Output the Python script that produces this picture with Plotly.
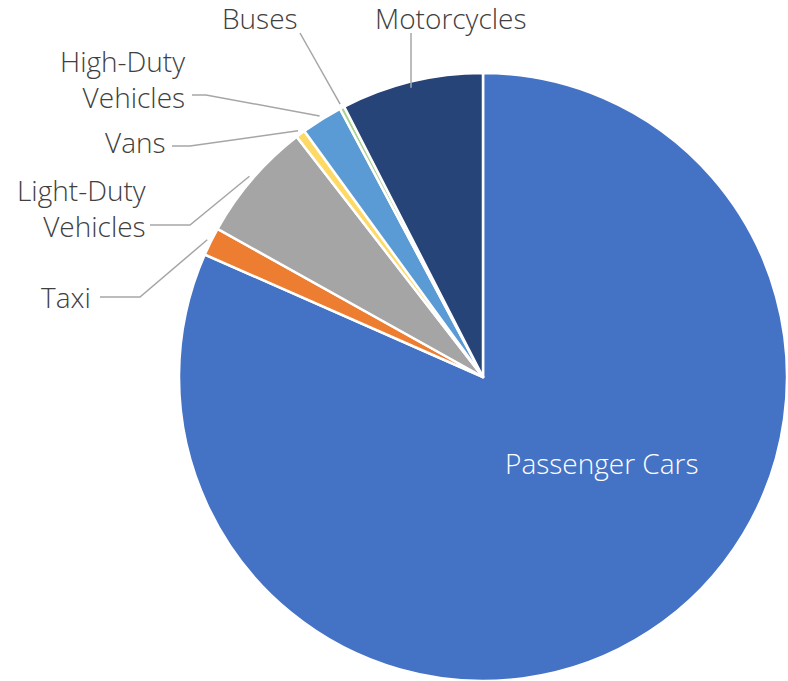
import math
import plotly.graph_objects as go

# Vehicle fleet share by category (percent)
categories = ["Passenger Cars", "Taxi", "Light-Duty Vehicles", "Vans",
              "High-Duty Vehicles", "Buses", "Motorcycles"]
shares = [81.6, 1.5, 6.4, 0.5, 2.2, 0.25, 7.55]
colors = ["#4472C4", "#ED7D31", "#A5A5A5", "#FFD966",
          "#5B9BD5", "#A9D18E", "#264478"]

W, H = 788, 681
CX, CY, R = 483, 377, 304  # pie centre and radius in pixels

FONT = "Open Sans"
FONT_SIZE = 28
TEXT_COLOR = "#404040"
LINE_COLOR = "#A6A6A6"


def px_to_paper(x, y):
    return x / W, 1 - y / H


def slice_point(idx, radius):
    """Pixel point on the bisector of slice idx (clockwise from 12 o'clock)."""
    total = sum(shares)
    start = sum(shares[:idx]) / total * 360
    mid = start + shares[idx] / total * 360 / 2
    a = math.radians(mid)
    return CX + radius * math.sin(a), CY - radius * math.cos(a)


fig = go.Figure(go.Pie(
    labels=categories,
    values=shares,
    sort=False,
    direction="clockwise",
    rotation=0,
    textinfo="none",
    hoverinfo="label+percent",
    marker=dict(colors=colors, line=dict(color="white", width=2.5)),
    domain=dict(x=[(CX - R) / W, (CX + R) / W],
                y=[1 - (CY + R) / H, 1 - (CY - R) / H]),
    showlegend=False,
))

# Outside labels: (category index, text, anchor, text position, elbow points)
outside = [
    (1, "Taxi", "right", (93, 297), [(100, 297), (140, 297)]),
    (2, "Light-Duty<br>Vehicles", "right", (148, 208), [(150, 225), (190, 225)]),
    (3, "Vans", "right", (168, 142), [(172, 146), (190, 146)]),
    (4, "High-Duty<br>Vehicles", "right", (187, 79), [(192, 95), (206, 95)]),
    (5, "Buses", "center", (260, 18), [(300, 33)]),
    (6, "Motorcycles", "center", (450, 18), [(411, 33)]),
]

annotations = []
shapes = []
for idx, text, anchor, (tx, ty), elbow in outside:
    ax, ay = px_to_paper(tx, ty)
    annotations.append(dict(
        x=ax, y=ay, xref="paper", yref="paper", text=text, showarrow=False,
        xanchor=anchor, yanchor="middle", align=anchor,
        font=dict(family=FONT, size=FONT_SIZE, color=TEXT_COLOR, weight=300),
    ))
    if idx == 6:
        # vertical leader straight down to the slice edge
        ex = elbow[0][0]
        ey = CY - math.sqrt(R ** 2 - (ex - CX) ** 2) + 6
        pts = [elbow[0], (ex, ey)]
    else:
        pts = elbow + [slice_point(idx, R + 4)]
    path = ""
    for k, (x, y) in enumerate(pts):
        px, py = px_to_paper(x, y)
        path += ("M" if k == 0 else " L") + f" {px:.5f} {py:.5f}"
    shapes.append(dict(type="path", path=path, xref="paper", yref="paper",
                       line=dict(color=LINE_COLOR, width=1.5)))

# Inside label for the dominant slice
pcx, pcy = px_to_paper(601, 463)
annotations.append(dict(
    x=pcx, y=pcy, xref="paper", yref="paper", text=categories[0],
    showarrow=False, xanchor="center", yanchor="middle",
    font=dict(family=FONT, size=FONT_SIZE, color="white", weight=300),
))

fig.update_layout(
    width=W, height=H,
    margin=dict(l=0, r=0, t=0, b=0),
    paper_bgcolor="white",
    plot_bgcolor="white",
    annotations=annotations,
    shapes=shapes,
)

fig.write_html("out.html")
